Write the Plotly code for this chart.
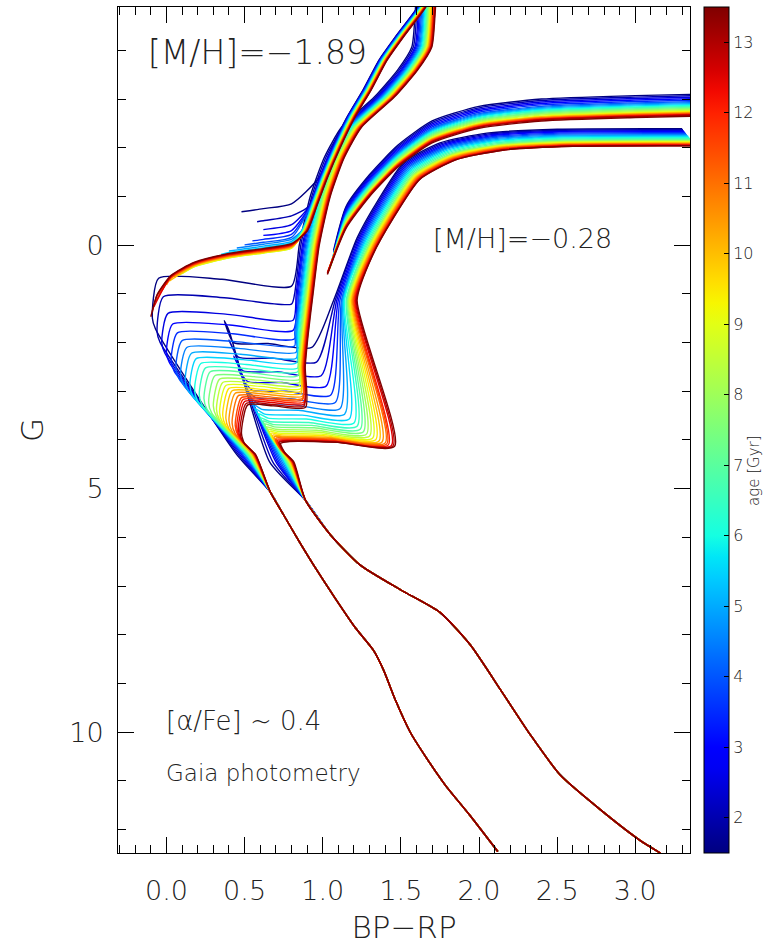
import numpy as np
import plotly.graph_objects as go

# ---------------------------------------------------------------- data
AGES = [1.5, 2.0, 2.5, 3.0, 3.5, 4.0, 4.5, 5.0, 5.5, 6.0, 6.5, 7.0, 7.5,
        8.0, 8.5, 9.0, 9.5, 10.0, 10.5, 11.0, 11.5, 12.0, 12.5, 13.0, 13.5]
AGE_MIN, AGE_MAX = 1.5, 13.5

# ===== [M/H] = -1.89 =====
# lower main sequence, common to all ages
MP_MS_X = [2.12, 1.94, 1.785, 1.66, 1.56, 1.465, 1.39, 1.325, 1.21, 1.08, 0.95, 0.845, 0.75, 0.665]
MP_MS_G = [12.45, 11.70, 11.09, 10.51, 10.0, 9.34, 8.73, 8.32, 7.86, 7.25, 6.61, 6.06, 5.54, 5.07]
# upper main sequence colour at G = 4.3
MP_U_G = 4.3
MP_U_X = [0.45, 0.46, 0.47, 0.48, 0.485, 0.49, 0.50, 0.505, 0.51, 0.515, 0.52, 0.525, 0.53,
          0.535, 0.54, 0.545, 0.55, 0.55, 0.555, 0.56, 0.56, 0.565, 0.565, 0.57, 0.57]
# turnoff (bluest point)
MP_TO_X = [-0.09, -0.06, -0.03, 0.00, 0.03, 0.06, 0.09, 0.12, 0.15, 0.18, 0.21, 0.24, 0.27,
           0.30, 0.32, 0.34, 0.36, 0.38, 0.40, 0.42, 0.44, 0.45, 0.46, 0.47, 0.48]
MP_TO_G = [1.50, 1.78, 2.00, 2.20, 2.37, 2.52, 2.65, 2.77, 2.88, 2.98, 3.07, 3.15, 3.23,
           3.30, 3.37, 3.43, 3.49, 3.55, 3.60, 3.65, 3.70, 3.74, 3.78, 3.82, 3.86]
# subgiant branch level, base of the red giant branch and its dip below the subgiant level
MP_SG_G = [0.68, 1.06, 1.40, 1.62, 1.80, 1.96, 2.10, 2.22, 2.33, 2.43, 2.52, 2.60, 2.68,
           2.75, 2.82, 2.88, 2.94, 2.99, 3.04, 3.09, 3.13, 3.17, 3.21, 3.25, 3.28]
MP_RB_X = [0.80, 0.80, 0.81, 0.81, 0.82, 0.82, 0.83, 0.83, 0.83, 0.84, 0.84, 0.84, 0.85,
           0.85, 0.85, 0.86, 0.86, 0.86, 0.87, 0.87, 0.87, 0.88, 0.88, 0.88, 0.89]
MP_RB_DIP = [0.16, 0.15, 0.14, 0.13, 0.12, 0.11, 0.10, 0.10, 0.09, 0.09, 0.08, 0.08, 0.08,
             0.07, 0.07, 0.07, 0.06, 0.06, 0.06, 0.06, 0.05, 0.05, 0.05, 0.05, 0.05]
# red giant branch (oldest track) and colour shift per age
MP_RGB_X = [0.88, 0.90, 0.93, 0.97, 1.04, 1.13, 1.24, 1.45, 1.60, 1.69, 1.71, 1.72]
MP_RGB_G = [2.50, 1.80, 1.00, 0.00, -1.00, -1.80, -2.42, -3.04, -3.60, -4.07, -4.70, -5.30]
MP_RGB_DX = [-0.12, -0.11, -0.10, -0.093, -0.086, -0.079, -0.072, -0.066, -0.060, -0.054, -0.048,
             -0.043, -0.038, -0.033, -0.028, -0.024, -0.020, -0.016, -0.012, -0.008, -0.005,
             -0.002, 0.002, 0.005, 0.008]
# horizontal branch (oldest track), start colour and magnitude shift per age
MP_HB_X = [-0.10, -0.06, 0.03, 0.18, 0.40, 0.62, 0.80]
MP_HB_G = [1.50, 1.05, 0.65, 0.38, 0.20, 0.10, 0.00]
MP_HB_X0 = [0.48, 0.58, 0.62, 0.62, 0.55, 0.50, 0.45, 0.40, 0.35, 0.30, 0.25, 0.20, 0.15,
            0.12, 0.10, 0.08, 0.05, 0.02, 0.00, -0.03, -0.05, -0.07, -0.08, -0.09, -0.10]
MP_HB_DG = [-0.85, -0.60, -0.42, -0.30, -0.22, -0.16, -0.12, -0.08, -0.05, -0.02, 0.0, 0.02, 0.04,
            0.05, 0.06, 0.06, 0.05, 0.04, 0.03, 0.02, 0.01, 0.0, -0.01, -0.02, -0.03]
# asymptotic giant branch
MP_AGB_X = [0.86, 0.92, 0.99, 1.07, 1.16, 1.27, 1.37, 1.48, 1.62, 1.68]
MP_AGB_G = [-0.30, -0.80, -1.40, -2.00, -2.60, -3.20, -3.80, -4.30, -4.90, -5.30]
MP_AGB_DX = [-0.01, -0.008, -0.005, -0.002, 0.0, 0.002, 0.005, 0.008, 0.01, 0.012, 0.014,
             0.016, 0.018, 0.02, 0.022, 0.024, 0.026, 0.028, 0.03, 0.032, 0.034, 0.036, 0.038,
             0.04, 0.042]

# ===== [M/H] = -0.28 =====
MR_MS_X = [3.16, 3.03, 2.78, 2.52, 2.33, 2.14, 1.945, 1.75, 1.50, 1.24, 1.05, 0.89]
MR_MS_G = [12.48, 12.22, 11.60, 10.88, 10.06, 9.14, 8.21, 7.54, 7.08, 6.57, 5.95, 5.24]
# upper main sequence colour at G = 4.45
MR_U_G = 4.45
MR_U_X = [0.66, 0.68, 0.70, 0.71, 0.72, 0.73, 0.74, 0.75, 0.755, 0.76, 0.765, 0.77, 0.775,
          0.78, 0.785, 0.79, 0.79, 0.795, 0.80, 0.80, 0.805, 0.805, 0.81, 0.81, 0.815]
MR_TO_X = [0.37, 0.40, 0.43, 0.46, 0.49, 0.51, 0.53, 0.55, 0.57, 0.59, 0.60, 0.62, 0.63,
           0.64, 0.65, 0.66, 0.67, 0.68, 0.69, 0.70, 0.70, 0.71, 0.72, 0.72, 0.73]
MR_TO_G = [1.55, 1.95, 2.28, 2.55, 2.78, 2.97, 3.12, 3.25, 3.36, 3.46, 3.54, 3.61, 3.67,
           3.73, 3.78, 3.82, 3.86, 3.90, 3.93, 3.96, 3.99, 4.01, 4.03, 4.05, 4.07]
MR_SG_G = [2.00, 2.30, 2.58, 2.80, 2.98, 3.13, 3.26, 3.37, 3.47, 3.55, 3.62, 3.68, 3.73,
           3.78, 3.82, 3.86, 3.89, 3.92, 3.94, 3.96, 3.98, 4.00, 4.01, 4.02, 4.03]
MR_RB_X = [0.93, 0.96, 0.99, 1.02, 1.05, 1.08, 1.11, 1.14, 1.17, 1.20, 1.22, 1.24, 1.26,
           1.28, 1.30, 1.32, 1.34, 1.36, 1.38, 1.40, 1.41, 1.42, 1.44, 1.45, 1.46]
# giant branch colour at G = 1.13
MR_R1_G = 1.13
MR_R1_X = [1.07, 1.08, 1.09, 1.10, 1.11, 1.12, 1.125, 1.13, 1.135, 1.14, 1.15, 1.155, 1.16,
           1.165, 1.17, 1.175, 1.18, 1.185, 1.19, 1.195, 1.20, 1.205, 1.21, 1.215, 1.22]
MR_RGB_X = [1.32, 1.45, 1.62, 1.85, 2.15, 2.60, 3.40]
MR_RGB_G = [0.20, -0.55, -1.35, -1.75, -1.95, -2.03, -2.04]
MR_RGB_DX = [-0.10, -0.095, -0.09, -0.085, -0.08, -0.075, -0.07, -0.065, -0.06, -0.055, -0.05,
             -0.045, -0.04, -0.036, -0.032, -0.028, -0.024, -0.02, -0.016, -0.012, -0.009,
             -0.006, -0.003, 0.0, 0.0]
MR_RGB_DG = [-0.35, -0.33, -0.31, -0.29, -0.27, -0.25, -0.23, -0.21, -0.19, -0.17, -0.15,
             -0.13, -0.11, -0.10, -0.09, -0.08, -0.07, -0.06, -0.05, -0.04, -0.03, -0.02,
             -0.01, 0.0, 0.0]
# core-helium burning clump and asymptotic giant branch
MR_CL_X = [1.07, 1.07, 1.07, 1.07, 1.065, 1.065, 1.06, 1.06, 1.055, 1.055, 1.05, 1.05, 1.05,
           1.045, 1.045, 1.04, 1.04, 1.04, 1.035, 1.035, 1.035, 1.03, 1.03, 1.03, 1.03]
MR_CL_G = [0.10, 0.14, 0.18, 0.22, 0.25, 0.28, 0.31, 0.34, 0.36, 0.38, 0.40, 0.42, 0.44,
           0.46, 0.47, 0.49, 0.50, 0.52, 0.53, 0.54, 0.55, 0.56, 0.57, 0.58, 0.60]
MR_AGB_X = [1.15, 1.30, 1.48, 1.70, 2.00, 2.40, 3.00, 3.40]
MR_AGB_G = [-0.35, -1.00, -1.60, -2.10, -2.40, -2.55, -2.62, -2.65]
MR_AGB_DG = [-0.45, -0.42, -0.39, -0.36, -0.33, -0.30, -0.28, -0.26, -0.24, -0.22, -0.20,
             -0.18, -0.16, -0.14, -0.12, -0.10, -0.09, -0.08, -0.07, -0.06, -0.05, -0.04,
             -0.03, -0.02, 0.0]

# ---------------------------------------------------------------- colour map
_R = [(0, 0), (0.35, 0), (0.66, 1), (0.89, 1), (1, 0.5)]
_Gc = [(0, 0), (0.125, 0), (0.375, 1), (0.64, 1), (0.91, 0), (1, 0)]
_B = [(0, 0.5), (0.11, 1), (0.34, 1), (0.65, 0), (1, 0)]


def _chan(seg, t):
    xs, ys = zip(*seg)
    return float(np.interp(t, xs, ys))


def jet(t):
    return "rgb(%d,%d,%d)" % tuple(round(255 * _chan(c, t)) for c in (_R, _Gc, _B))


JET_SCALE = [[s, jet(s)] for s in np.linspace(0, 1, 41)]


def age_colour(a):
    return jet((a - AGE_MIN) / (AGE_MAX - AGE_MIN))


# ---------------------------------------------------------------- tracks
def extend(xs, gs, tx, tg, dx=0.0, dg=0.0, gap=0.2):
    """continue a track with the first point brighter than its end and all after it"""
    start = None
    for k, g in enumerate(tg):
        if g + dg < gs[-1] - gap:
            start = k
            break
    if start is not None:
        for x, g in zip(tx[start:], tg[start:]):
            xs.append(x + dx)
            gs.append(g + dg)
    return xs, gs


def mp_track(i):
    xs = list(MP_MS_X) + [MP_U_X[i], MP_TO_X[i] + 0.02, MP_TO_X[i], MP_TO_X[i] + 0.04,
                          (MP_TO_X[i] + MP_RB_X[i]) / 2, MP_RB_X[i]]
    gs = list(MP_MS_G) + [MP_U_G, MP_TO_G[i] + 0.22, MP_TO_G[i], MP_SG_G[i],
                          MP_SG_G[i] + 0.02, MP_SG_G[i] + MP_RB_DIP[i]]
    return extend(xs, gs, MP_RGB_X, MP_RGB_G, MP_RGB_DX[i])


def mp_hb(i):
    xs = [MP_HB_X0[i]]
    gs = [float(np.interp(MP_HB_X0[i], MP_HB_X, MP_HB_G)) + MP_HB_DG[i]]
    for x, g in zip(MP_HB_X, MP_HB_G):
        if x > MP_HB_X0[i] + 0.02:
            xs.append(x)
            gs.append(g + MP_HB_DG[i])
    return extend(xs, gs, MP_AGB_X, MP_AGB_G, MP_AGB_DX[i], gap=0.15)


def mr_track(i):
    xs = list(MR_MS_X) + [MR_U_X[i], MR_TO_X[i] + 0.03, MR_TO_X[i], MR_TO_X[i] + 0.06,
                          (MR_TO_X[i] + MR_RB_X[i]) / 2, MR_RB_X[i], MR_R1_X[i]]
    gs = list(MR_MS_G) + [MR_U_G, MR_TO_G[i] + 0.2, MR_TO_G[i], MR_SG_G[i],
                          MR_SG_G[i] + 0.02, MR_SG_G[i] + 0.1, MR_R1_G]
    return extend(xs, gs, MR_RGB_X, MR_RGB_G, MR_RGB_DX[i], MR_RGB_DG[i])


def mr_agb(i):
    xs, gs = [MR_CL_X[i]], [MR_CL_G[i]]
    return extend(xs, gs, MR_AGB_X, MR_AGB_G, 0.0, MR_AGB_DG[i], gap=0.1)


fig = go.Figure()
LW = 1.4


def add_line(x, g, col):
    fig.add_trace(go.Scatter(x=x, y=g, mode="lines",
                             line=dict(color=col, width=LW, shape="spline", smoothing=0.6),
                             hoverinfo="skip", showlegend=False))


for i, a in enumerate(AGES):
    col = age_colour(a)
    add_line(*mp_track(i), col)
    add_line(*mp_hb(i), col)
    add_line(*mr_track(i), col)
    add_line(*mr_agb(i), col)

FONT = "DejaVu Sans"
INK = "#222"
W = 200

# colour bar carrier
fig.add_trace(go.Scatter(
    x=[None], y=[None], mode="markers", hoverinfo="skip", showlegend=False,
    marker=dict(color=[AGE_MIN], cmin=AGE_MIN, cmax=AGE_MAX, colorscale=JET_SCALE, showscale=True,
                colorbar=dict(thickness=25, len=1, lenmode="fraction", y=1, yanchor="top",
                              x=704 / 777, xref="container", xanchor="left", xpad=0, ypad=0,
                              outlinecolor="black", outlinewidth=1,
                              tickmode="array", tickvals=list(range(2, 14)),
                              ticks="inside", ticklen=5, tickcolor="black",
                              tickfont=dict(family=FONT, size=16, color=INK, weight=W)))))

axis_common = dict(showgrid=False, zeroline=False, showline=True, linecolor="black", linewidth=1,
                   mirror="allticks", ticks="inside", tickcolor="black",
                   tickfont=dict(family=FONT, size=27, color=INK, weight=W))
fig.update_xaxes(range=[-0.31, 3.35], tick0=0, dtick=0.5, ticklen=16, tickformat=".1f",
                 ticklabelstandoff=14,
                 minor=dict(dtick=0.1, ticklen=8, ticks="inside", tickcolor="black"),
                 title=dict(text="BP\u2212RP", font=dict(family=FONT, size=31, color=INK, weight=W),
                            standoff=10),
                 **axis_common)
fig.update_yaxes(range=[12.48, -4.89], tick0=0, dtick=5, ticklen=16, ticklabelstandoff=8,
                 minor=dict(dtick=1, ticklen=8, ticks="inside", tickcolor="black"),
                 title=dict(text="G", font=dict(family=FONT, size=31, color=INK, weight=W), standoff=16),
                 **axis_common)

ann = [
    dict(text="[M/H]=\u22121.89", x=146, y=53, size=33),
    dict(text="[M/H]=\u22120.28", x=431, y=239, size=27),
    dict(text="[\u03b1/Fe] ~ 0.4", x=164, y=721, size=26),
    dict(text="Gaia photometry", x=164, y=773, size=23),
]
for a in ann:
    fig.add_annotation(text=a["text"], xref="paper", yref="paper",
                       x=(a["x"] - 117.5) / (690 - 117.5), y=1 - (a["y"] - 7) / (853 - 7),
                       xanchor="left", yanchor="middle", showarrow=False,
                       font=dict(family=FONT, size=a["size"], color=INK, weight=W))
fig.add_annotation(text="age [Gyr]", xref="paper", yref="paper",
                   x=(765 - 117.5) / (690 - 117.5), y=1 - (470 - 7) / (853 - 7), textangle=-90,
                   showarrow=False, font=dict(family=FONT, size=15, color=INK, weight=W))

fig.update_layout(width=777, height=947, margin=dict(l=117.5, r=87, t=7, b=94),
                  plot_bgcolor="white", paper_bgcolor="white")
fig.write_html("out.html")
